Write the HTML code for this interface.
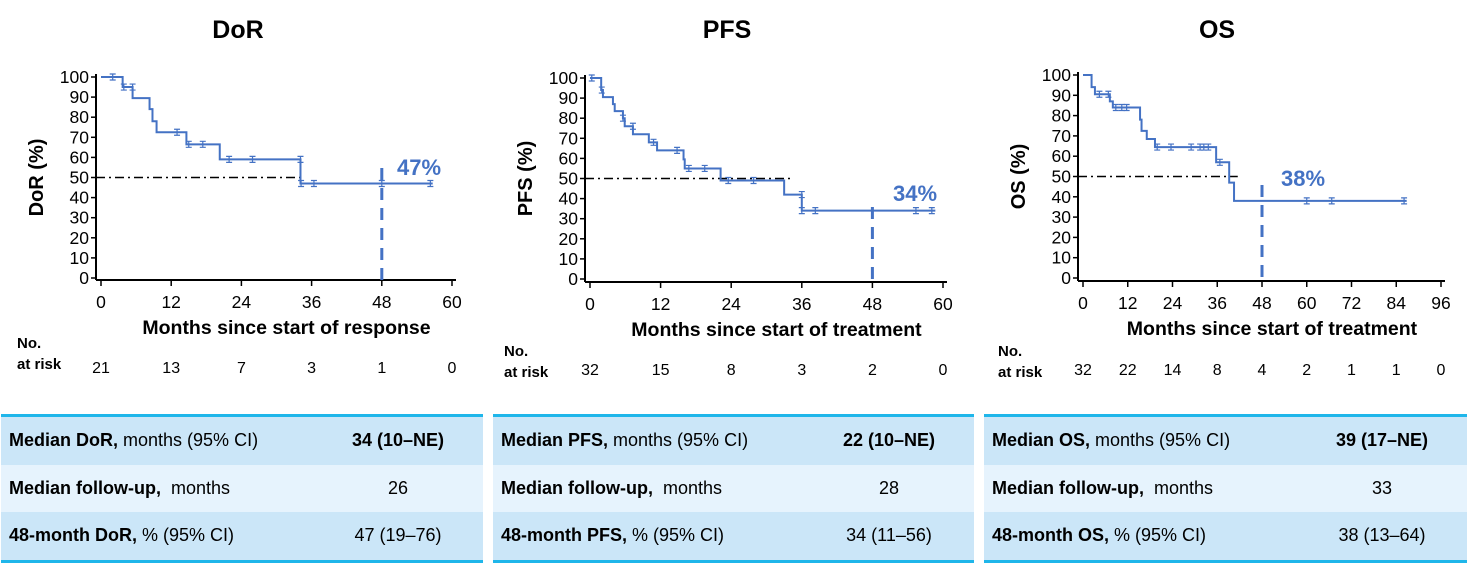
<!DOCTYPE html>
<html><head><meta charset="utf-8">
<style>
body{margin:0;width:1469px;height:559px;background:#fff;font-family:"Liberation Sans",Arial,sans-serif;overflow:hidden;position:relative}
svg{position:absolute;left:0;top:0}
.tbl{position:absolute;top:414px;border-top:3px solid #1fb6ea;border-bottom:3px solid #1fb6ea;font-size:18px;color:#000}
.row{height:47.5px;display:flex;align-items:center}
.r1,.r3{background:#cbe6f8}.r2{background:#e6f3fd}
.lab{padding-left:8px;flex:1;white-space:nowrap}
.val{width:170px;text-align:center}
</style></head><body>
<svg id="chart" width="1469" height="559"></svg>

<div class="tbl" style="left:1px;width:482px">
 <div class="row r1"><span class="lab"><b>Median DoR,</b> months (95% CI)</span><span class="val"><b>34 (10–NE)</b></span></div>
 <div class="row r2"><span class="lab"><b>Median follow-up,</b>&nbsp; months</span><span class="val">26</span></div>
 <div class="row r3"><span class="lab"><b>48-month DoR,</b> % (95% CI)</span><span class="val">47 (19–76)</span></div>
</div>
<div class="tbl" style="left:493px;width:481px">
 <div class="row r1"><span class="lab"><b>Median PFS,</b> months (95% CI)</span><span class="val"><b>22 (10–NE)</b></span></div>
 <div class="row r2"><span class="lab"><b>Median follow-up,</b>&nbsp; months</span><span class="val">28</span></div>
 <div class="row r3"><span class="lab"><b>48-month PFS,</b> % (95% CI)</span><span class="val">34 (11–56)</span></div>
</div>
<div class="tbl" style="left:984px;width:483px">
 <div class="row r1"><span class="lab"><b>Median OS,</b> months (95% CI)</span><span class="val"><b>39 (17–NE)</b></span></div>
 <div class="row r2"><span class="lab"><b>Median follow-up,</b>&nbsp; months</span><span class="val">33</span></div>
 <div class="row r3"><span class="lab"><b>48-month OS,</b> % (95% CI)</span><span class="val">38 (13–64)</span></div>
</div>

<script>
// DoR data
const dorStepX = [0, 3.7, 5.4, 8.3, 8.8, 9.5, 14.6, 20.3, 34.1];
const dorStepY = [100, 95, 89.5, 84, 78, 72.5, 66.5, 59, 47];
const dorEnd = 56.7;
const dorCensX = [2, 3.9, 5.4, 13, 15, 17.4, 21.9, 25.9, 34.1, 34.2, 36.4, 48, 56.3];
const dorCensY = [100, 95, 95, 72.5, 66.5, 66.5, 59, 59, 59, 47, 47, 47, 47];
const dorRisk = [21, 13, 7, 3, 1, 0];
const dorXTicks = [0, 12, 24, 36, 48, 60];
// PFS data
const pfsStepX = [0, 1.9, 2.2, 3.9, 4.2, 5.6, 5.9, 7.3, 10, 11.4, 15.9, 16.1, 22.2, 33, 36];
const pfsStepY = [100, 94, 90.5, 87, 83.5, 80, 76, 72, 68, 64, 59.5, 55, 49, 42, 34];
const pfsEnd = 58.7;
const pfsCensX = [0.3, 2, 5.6, 7.3, 10.8, 14.8, 16.8, 19.5, 23.5, 27.8, 36, 36, 38.3, 55.4, 58.1];
const pfsCensY = [100, 94, 80, 76, 68, 64, 55, 55, 49, 49, 42, 34, 34, 34, 34];
const pfsRisk = [32, 15, 8, 3, 2, 0];
const pfsXTicks = [0, 12, 24, 36, 48, 60];
// OS data
const osStepX = [0, 2.3, 3.2, 7.2, 8, 15.3, 15.7, 17.1, 19.3, 35.7, 39.2, 40.5];
const osStepY = [100, 94, 90.5, 87, 84, 78, 72.5, 68.5, 64.5, 57, 47, 38];
const osEnd = 86.8;
const osCensX = [4.4, 6.8, 8.8, 10.4, 11.7, 19.9, 23.6, 29, 31.4, 32.4, 33.6, 36.7, 60, 66.7, 86.1];
const osCensY = [90.5, 90.5, 84, 84, 84, 64.5, 64.5, 64.5, 64.5, 64.5, 64.5, 57, 38, 38, 38];
const osRisk = [32, 22, 14, 8, 4, 2, 1, 1, 0];
const osXTicks = [0, 12, 24, 36, 48, 60, 72, 84, 96];
const yTicks = [0, 10, 20, 30, 40, 50, 60, 70, 80, 90, 100];

const svg = document.getElementById('chart');
const NS = 'http://www.w3.org/2000/svg';
function mk(tag, attrs, txt){const e=document.createElementNS(NS,tag);for(const k in attrs)e.setAttribute(k,attrs[k]);if(txt!==undefined)e.textContent=txt;svg.appendChild(e);return e;}
const BLUE='#4472c4';

function panel(cfg){
  const {key,yAxX,x0,x1,xMax,y100,y0,axY,title,titleX,yTitle,xTitle,stepX,stepY,end,censX,censY,risk,xTicks,median,pct,pctX,pctY,dashTop,noX,noY,riskY}=cfg;
  const sx=v=>x0+(x1-x0)*v/xMax;
  const sy=v=>y0+(y100-y0)*v/100;
  let t=mk('text',{x:titleX,y:38,'font-size':25,'font-weight':'bold','text-anchor':'middle'},title);
  
  
  let ya=mk('line',{x1:yAxX,y1:y100-3,x2:yAxX,y2:axY,stroke:'#000','stroke-width':2});
  
  
  yTicks.forEach(v=>{
    mk('line',{x1:yAxX-5,y1:sy(v),x2:yAxX,y2:sy(v),stroke:'#000','stroke-width':1.5});
    let l=mk('text',{x:yAxX-7,y:sy(v)+6,'font-size':17.5,'text-anchor':'end'},v);
    
    
  });
  let xa=mk('line',{x1:yAxX,y1:axY,x2:sx(xMax)+4,y2:axY,stroke:'#000','stroke-width':2});
  
  
  xTicks.forEach((v,i)=>{
    mk('line',{x1:sx(v),y1:axY,x2:sx(v),y2:axY+6,stroke:'#000','stroke-width':1.5});
    let l=mk('text',{x:sx(v),y:axY+28,'font-size':17.5,'text-anchor':'middle'},v);
    
    
    let r=mk('text',{x:sx(v),y:riskY,'font-size':16,'text-anchor':'middle'},risk[i]);
    
    
  });
  let xt=mk('text',{x:(sx(0)+sx(xMax))/2+10,y:axY+54,'font-size':19.5,'font-weight':'bold','text-anchor':'middle'},xTitle);
  
  
  let yt=mk('text',{x:0,y:0,'font-size':20,'font-weight':'bold','text-anchor':'middle',transform:`translate(${yAxX-53},${(y0+y100)/2}) rotate(-90)`},yTitle);
  
  
  let n1=mk('text',{x:noX,y:noY,'font-size':15,'font-weight':'bold'},'No.');
  
  
  mk('text',{x:noX,y:noY+21,'font-size':15,'font-weight':'bold'},'at risk');
  let md=mk('line',{x1:yAxX,y1:sy(50),x2:sx(median),y2:sy(50),stroke:'#000','stroke-width':1.6,'stroke-dasharray':'9,4,2,4'});
  
  
  let vd=mk('line',{x1:sx(48),y1:dashTop,x2:sx(48),y2:axY,stroke:BLUE,'stroke-width':3,'stroke-dasharray':'12,8'});
  
  
  let d=`M${sx(stepX[0])},${sy(stepY[0])}`;
  for(let i=1;i<stepX.length;i++){d+=` H${sx(stepX[i])} V${sy(stepY[i])}`;}
  d+=` H${sx(end)}`;
  let p=mk('path',{d:d,fill:'none',stroke:BLUE,'stroke-width':2});
  
  
  censX.forEach((cx,i)=>{
    const X=sx(cx),Y=sy(censY[i]);
    let c=mk('path',{d:`M${X},${Y-3} V${Y+3} M${X-3},${Y-3} H${X+3} M${X-3},${Y+3} H${X+3}`,stroke:BLUE,'stroke-width':1.2,fill:'none'});
    
    
  });
  let pl=mk('text',{x:pctX,y:pctY,'font-size':22,'font-weight':'bold',fill:BLUE,'text-anchor':'middle'},pct);
  
  
}

panel({key:'dor',yAxX:96,x0:101,x1:452,xMax:60,y100:77,y0:278,axY:280,title:'DoR',titleX:238,yTitle:'DoR (%)',xTitle:'Months since start of response',
  stepX:dorStepX,stepY:dorStepY,end:dorEnd,censX:dorCensX,censY:dorCensY,risk:dorRisk,xTicks:dorXTicks,median:34.1,pct:'47%',pctX:419,pctY:175,dashTop:168,noX:17,noY:348,riskY:373});
panel({key:'pfs',yAxX:585,x0:590,x1:943,xMax:60,y100:78,y0:279,axY:282,title:'PFS',titleX:727,yTitle:'PFS (%)',xTitle:'Months since start of treatment',
  stepX:pfsStepX,stepY:pfsStepY,end:pfsEnd,censX:pfsCensX,censY:pfsCensY,risk:pfsRisk,xTicks:pfsXTicks,median:34.1,pct:'34%',pctX:915,pctY:201,dashTop:207,noX:504,noY:356,riskY:375});
panel({key:'os',yAxX:1078,x0:1083,x1:1441,xMax:96,y100:75,y0:278,axY:281,title:'OS',titleX:1217,yTitle:'OS (%)',xTitle:'Months since start of treatment',
  stepX:osStepX,stepY:osStepY,end:osEnd,censX:osCensX,censY:osCensY,risk:osRisk,xTicks:osXTicks,median:41.5,pct:'38%',pctX:1303,pctY:186,dashTop:185,noX:998,noY:356,riskY:375});
</script>
</body></html>
